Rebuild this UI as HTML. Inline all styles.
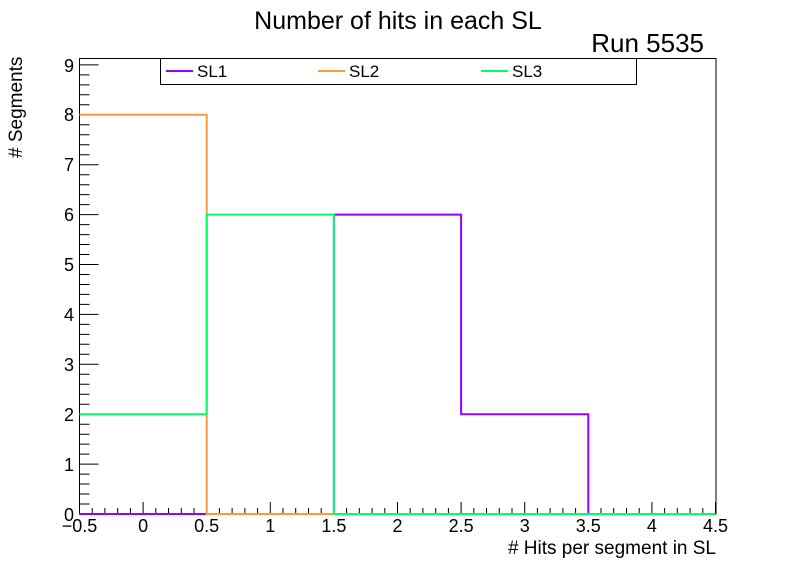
<!DOCTYPE html>
<html><head><meta charset="utf-8"><style>body{margin:0;background:#fff}svg{display:block}</style></head><body>
<svg width="796" height="572" viewBox="0 0 796 572" xmlns="http://www.w3.org/2000/svg" font-family="Liberation Sans, sans-serif">
<rect width="796" height="572" fill="#fff"/>
<text x="398" y="29" font-size="25" text-anchor="middle">Number of hits in each SL</text>
<text x="704" y="52" font-size="26" text-anchor="end">Run 5535</text>
<g stroke="#000" stroke-width="1" fill="none">
<rect x="79.5" y="58.5" width="636.5" height="455.5"/>
<path d="
M79.5,514v-12 M143.1,514v-12 M206.7,514v-12 M270.3,514v-12 M333.9,514v-12 M397.5,514v-12 M461.1,514v-12 M524.7,514v-12 M588.3,514v-12 M651.9,514v-12 M715.5,514v-12
M92.2,514v-6 M104.9,514v-6 M117.7,514v-6 M130.4,514v-6 M155.8,514v-6 M168.5,514v-6 M181.3,514v-6 M194,514v-6
M219.4,514v-6 M232.1,514v-6 M244.9,514v-6 M257.6,514v-6 M283,514v-6 M295.7,514v-6 M308.5,514v-6 M321.2,514v-6
M346.6,514v-6 M359.3,514v-6 M372.1,514v-6 M384.8,514v-6 M410.2,514v-6 M422.9,514v-6 M435.7,514v-6 M448.4,514v-6
M473.8,514v-6 M486.5,514v-6 M499.3,514v-6 M512,514v-6 M537.4,514v-6 M550.1,514v-6 M562.9,514v-6 M575.6,514v-6
M601,514v-6 M613.7,514v-6 M626.5,514v-6 M639.2,514v-6 M664.6,514v-6 M677.3,514v-6 M690.1,514v-6 M702.8,514v-6
M79.5,464.1h19 M79.5,414.2h19 M79.5,364.3h19 M79.5,314.4h19 M79.5,264.5h19 M79.5,214.6h19 M79.5,164.7h19 M79.5,114.8h19 M79.5,64.9h19
M79.5,504h10 M79.5,494h10 M79.5,484h10 M79.5,474.1h10 M79.5,454.1h10 M79.5,444.1h10 M79.5,434.2h10 M79.5,424.2h10
M79.5,404.2h10 M79.5,394.2h10 M79.5,384.3h10 M79.5,374.3h10 M79.5,354.3h10 M79.5,344.3h10 M79.5,334.4h10 M79.5,324.4h10
M79.5,304.4h10 M79.5,294.4h10 M79.5,284.5h10 M79.5,274.5h10 M79.5,254.5h10 M79.5,244.5h10 M79.5,234.6h10 M79.5,224.6h10
M79.5,204.6h10 M79.5,194.6h10 M79.5,184.7h10 M79.5,174.7h10 M79.5,154.7h10 M79.5,144.7h10 M79.5,134.8h10 M79.5,124.8h10
M79.5,104.8h10 M79.5,94.8h10 M79.5,84.9h10 M79.5,74.9h10"/>
</g>
<g font-size="18" text-anchor="middle">
<text x="79.5" y="532">−0.5</text><text x="143.1" y="532">0</text><text x="206.7" y="532">0.5</text><text x="270.3" y="532">1</text><text x="333.9" y="532">1.5</text><text x="397.5" y="532">2</text><text x="461.1" y="532">2.5</text><text x="524.7" y="532">3</text><text x="588.3" y="532">3.5</text><text x="651.9" y="532">4</text><text x="715.5" y="532">4.5</text>
</g>
<g font-size="18" text-anchor="end">
<text x="74" y="521">0</text><text x="74" y="471">1</text><text x="74" y="421">2</text><text x="74" y="371">3</text><text x="74" y="321">4</text><text x="74" y="271">5</text><text x="74" y="221">6</text><text x="74" y="171">7</text><text x="74" y="121">8</text><text x="74" y="72">9</text>
</g>
<text x="716" y="554" font-size="19" text-anchor="end"># Hits per segment in SL</text>
<text transform="translate(22,158) rotate(-90)" font-size="19" text-anchor="start"># Segments</text>
<g fill="none" stroke-width="2">
<path stroke="#9900ff" d="M79.5,514H333.9V214.6H461.1V414.2H588.3V514H715.5"/>
<path stroke="#ff9933" d="M79.5,114.8H206.7V514H715.5"/>
<path stroke="#00ff66" d="M79.5,414.2H206.7V214.6H333.9V514H715.5"/>
</g>
<rect x="160.5" y="58.5" width="476" height="26" fill="#fff" stroke="#000"/>
<line x1="166" y1="71" x2="193" y2="71" stroke="#9900ff" stroke-width="2"/>
<text x="197" y="77" font-size="17">SL1</text>
<line x1="318" y1="71" x2="345" y2="71" stroke="#ff9933" stroke-width="2"/>
<text x="349" y="77" font-size="17">SL2</text>
<line x1="481" y1="71" x2="508" y2="71" stroke="#00ff66" stroke-width="2"/>
<text x="512" y="77" font-size="17">SL3</text>
</svg>
</body></html>
